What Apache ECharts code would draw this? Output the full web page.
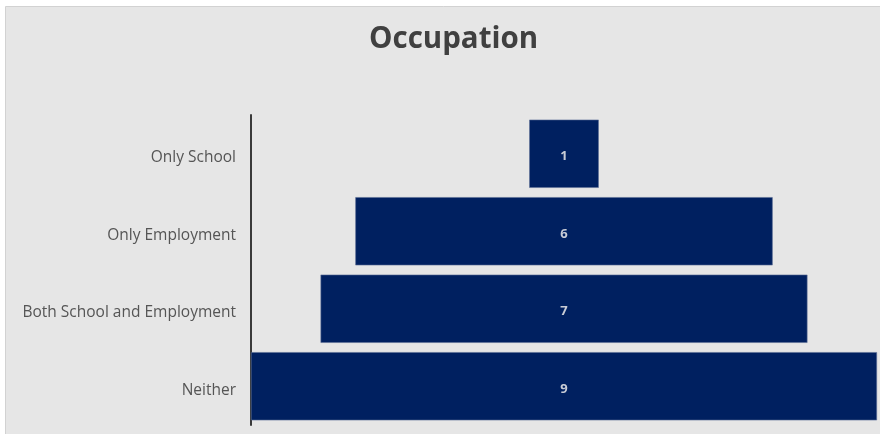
<!DOCTYPE html>
<html><head><meta charset="utf-8">
<script src="https://cdn.jsdelivr.net/npm/echarts@6/dist/echarts.min.js"></script>
<style>html,body{margin:0;padding:0;background:#fff}#c{width:880px;height:434px}</style>
</head><body><div id="c"></div>
<script>
const categories = ["Only School", "Only Employment", "Both School and Employment", "Neither"];
const counts = [1, 6, 7, 9];
const titleText = "Occupation";

const maxVal = Math.max(...counts);
const offsets = counts.map(v => (maxVal - v) / 2);

const chart = echarts.init(document.getElementById('c'));
chart.setOption({
  animation: false,
  backgroundColor: '#ffffff',
  graphic: [{
    type: 'rect', z: -10, silent: true,
    shape: { x: 5.5, y: 6.5, width: 900, height: 440 },
    style: { fill: '#e6e6e6', stroke: '#d2d2d2', lineWidth: 1 }
  }],
  title: {
    text: titleText, left: 364, top: 20,
    textStyle: { fontFamily: 'Open Sans', fontWeight: 'bold', fontSize: 29.5, color: '#404040' }
  },
  grid: { left: 251, right: 3, top: 115, bottom: 9, containLabel: false },
  xAxis: { type: 'value', min: 0, max: maxVal, show: false },
  yAxis: {
    type: 'category', data: categories, inverse: true,
    axisLine: { show: true, lineStyle: { color: '#3a3a3a', width: 2 } },
    axisTick: { show: false },
    axisLabel: {
      margin: 15,
      formatter: v => '{a|' + v + '}',
      rich: { a: { fontFamily: 'Open Sans', fontSize: 15.5, color: '#555555', padding: [8, 0, 0, 0] } }
    }
  },
  series: [
    { type: 'bar', stack: 'f', data: offsets, itemStyle: { color: 'transparent' }, barCategoryGap: '12%', silent: true },
    { type: 'bar', stack: 'f', data: counts, barCategoryGap: '12%',
      itemStyle: { color: '#002060', borderColor: '#5a6d96', borderWidth: 0.6 },
      label: { show: true, position: 'inside', offset: [0, 3], color: '#c8ccd6', fontFamily: 'Open Sans', fontWeight: 'bold', fontSize: 13 } }
  ]
});
</script></body></html>
